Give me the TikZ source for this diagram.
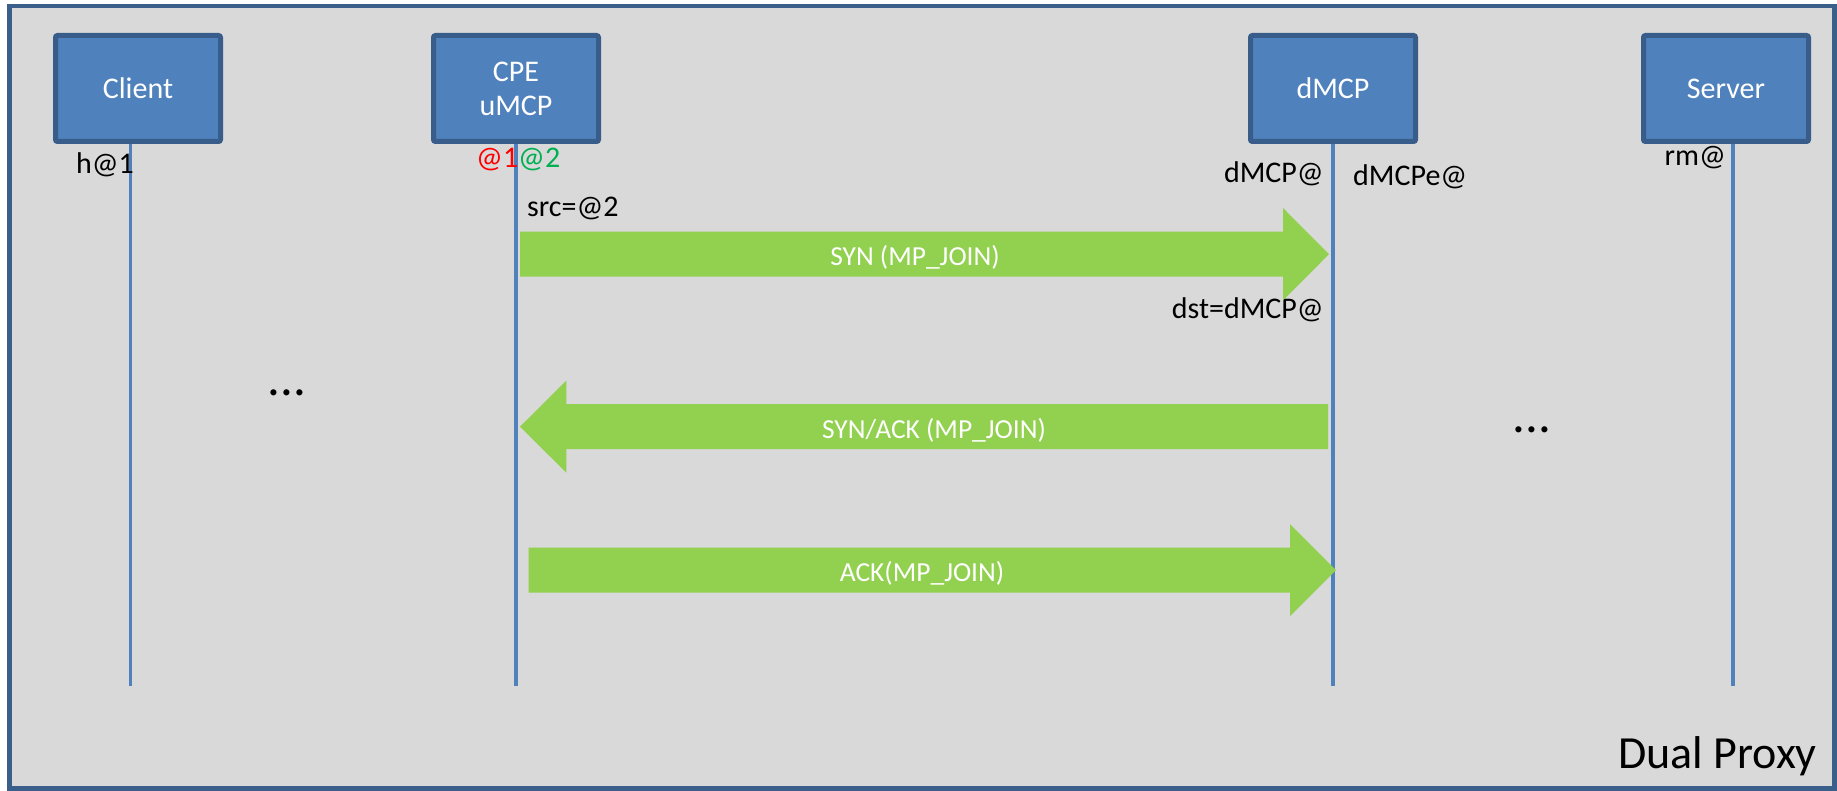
\documentclass[tikz,border=0pt]{standalone}
\usepackage{fontspec}
\setmainfont{Carlito}
\definecolor{framec}{HTML}{3B5F8B}
\definecolor{panel}{HTML}{D9D9D9}
\definecolor{boxfill}{HTML}{4F81BD}
\definecolor{boxline}{HTML}{385D8A}
\definecolor{msg}{HTML}{92D050}
\definecolor{redat}{HTML}{FF0000}
\definecolor{greenat}{HTML}{00B050}
\begin{document}
\begin{tikzpicture}[x=1pt,y=-1pt,
  actor/.style={draw=boxline, fill=boxfill, line width=5pt, rounded corners=2pt,
    minimum width=165pt, minimum height=106pt, text=white,
    font=\fontsize{30}{34}\selectfont, align=center, inner sep=0pt},
  life/.style={draw=boxfill, line width=3.5pt},
  lbl/.style={font=\fontsize{30}{36}\selectfont, inner sep=0pt},
  dots/.style={font=\fontsize{51}{60}\selectfont, inner sep=0pt, anchor=base},
  msgtext/.style={font=\fontsize{27.5}{33}\selectfont, text=white, inner sep=0pt, anchor=base},
  blockarrow/.style={fill=msg}]

\useasboundingbox (0,0) rectangle (1837,791);

% panel
\draw[line width=4.5pt, draw=framec, fill=panel] (9.5,6) rectangle (1834.7,788.7);

% participants
\node[actor] (client) at (138,88.5) {Client};
\node[actor] (cpe) at (516,88.5) {CPE\\uMCP};
\node[actor] (dmcp) at (1333,88.5) {dMCP};
\node[actor] (server) at (1726,88.5) {Server};

% lifelines
\draw[life] ([xshift=-7.3pt]client.south) -- ++(0,542);
\draw[life] (cpe.south) -- ++(0,542);
\draw[life] (dmcp.south) -- ++(0,542);
\draw[life] ([xshift=7pt]server.south) -- ++(0,542);

% addresses
\node[lbl, anchor=base east] (h1) at (134,174) {h@1};
\node[lbl, anchor=base west] (cpeaddr) at (476,168) {\textcolor{redat}{@1}\textcolor{greenat}{@2}};
\node[lbl, anchor=base west] (src) at (527,217) {src=@2};
\node[lbl, anchor=base east] (dmcpaddr) at (1324,183) {dMCP@};
\node[lbl, anchor=base west] (dmcpe) at (1353,186) {dMCPe@};
\node[lbl, anchor=base east] (rm) at (1726,166) {rm@};
\node[lbl, anchor=base east] (dst) at (1324,319) {dst=dMCP@};

\node[dots] (dotsL) at (287,396) {...};
\node[dots] (dotsR) at (1532,433) {...};

\node[font=\fontsize{46}{55}\selectfont, anchor=base east, inner sep=0pt] (title) at (1817,768) {Dual Proxy};

% messages
\fill[blockarrow] (520,231.7) -- (1283,231.7) -- (1283,208) -- (1329,254.2)
  -- (1283,300.4) -- (1283,276.7) -- (520,276.7) -- cycle;
\node[msgtext] (syn) at (915,266) {SYN (MP\_JOIN)};

\fill[blockarrow] (520,426.7) -- (566.3,380.7) -- (566.3,404.2) -- (1328,404.2)
  -- (1328,449.2) -- (566.3,449.2) -- (566.3,472.7) -- cycle;
\node[msgtext] (synack) at (934,438.5) {SYN/ACK (MP\_JOIN)};

\fill[blockarrow] (528.7,547.7) -- (1290,547.7) -- (1290,524.2) -- (1336,570.2)
  -- (1290,616.2) -- (1290,592.7) -- (528.7,592.7) -- cycle;
\node[msgtext] (ack) at (922,581.7) {ACK(MP\_JOIN)};

\end{tikzpicture}
\end{document}
